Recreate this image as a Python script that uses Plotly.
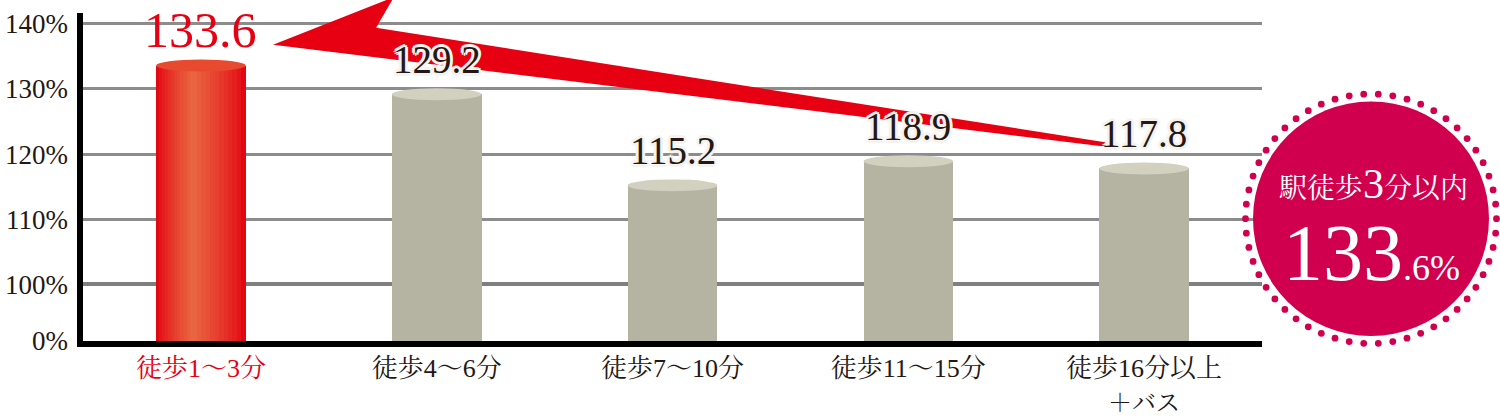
import math
import plotly.graph_objects as go

# ---------------- data ----------------
categories = ["徒歩1〜3分", "徒歩4〜6分", "徒歩7〜10分", "徒歩11〜15分", "徒歩16分以上<br><span style='font-size:24px'>＋バス</span>"]
values = [133.6, 129.2, 115.2, 118.9, 117.8]
highlight_index = 0
y_tick_values = [0, 100, 110, 120, 130, 140]
y_tick_labels = ["0%", "100%", "110%", "120%", "130%", "140%"]
badge_title_pre = "駅徒歩"
badge_title_num = "3"
badge_title_post = "分以内"
badge_value = 133.6

# ---------------- geometry / style ----------------
W, H = 1500, 416
PL, PR, PT, PB = 83, 1262, 0, 343          # plot area in pixels
PX_PER_UNIT = 6.55
Y100_PX = 286
ZERO_U = -(PB - Y100_PX) / PX_PER_UNIT     # axis units for 0%
TOP_U = (Y100_PX - PT) / PX_PER_UNIT
N = len(categories)
CAT_PX = (PR - PL) / N

SERIF = "Liberation Serif, Noto Serif CJK JP, serif"
RED = "#e60012"
GRAY_BAR = "#b5b4a3"
GRAY_TOP = "#d2d0be"
TEXT = "#231815"
BADGE = "#d0004f"
BAR_W = 0.38


def yu(v):
    """broken axis: 0..100 compressed, 100.. linear"""
    if v >= 100:
        return v - 100
    return ZERO_U * (1 - v / 100.0)


def px_data(px, py):
    return (px - PL) / CAT_PX - 0.5, (Y100_PX - py) / PX_PER_UNIT


def px_paper(px, py):
    return (px - PL) / (PR - PL), (PB - py) / (PB - PT)


fig = go.Figure()
xs = list(range(N))

# gray bars
gray_x = [i for i in xs if i != highlight_index]
fig.add_trace(go.Bar(
    x=gray_x, y=[yu(values[i]) - ZERO_U for i in gray_x], base=ZERO_U,
    width=BAR_W, marker=dict(color=GRAY_BAR, line=dict(width=0)),
    hoverinfo="skip", showlegend=False))


def mix(c1, c2, t):
    a = [int(c1[k:k + 2], 16) for k in (1, 3, 5)]
    b = [int(c2[k:k + 2], 16) for k in (1, 3, 5)]
    return "#" + "".join(f"{round(a[j] + (b[j] - a[j]) * t):02x}" for j in range(3))


# highlighted red cylinder with layered gradient (edge red -> orange centre)
steps = 12
hv = yu(values[highlight_index]) - ZERO_U
centre_shift = -0.035
for s in range(steps):
    frac = 1 - s / steps
    col = mix("#e30613", "#e9643f", (s / (steps - 1)) ** 0.8)
    w = BAR_W * frac
    fig.add_trace(go.Bar(
        x=[highlight_index], y=[hv], base=ZERO_U,
        width=w, offset=-w / 2 + centre_shift * (1 - frac),
        marker=dict(color=col, line=dict(width=0)),
        hoverinfo="skip", showlegend=False))

shapes = []
# cylinder tops
cap_h = 12 / PX_PER_UNIT
for i, v in enumerate(values):
    c = GRAY_TOP if i != highlight_index else "#e84a30"
    shapes.append(dict(type="circle", xref="x", yref="y",
                       x0=i - BAR_W / 2, x1=i + BAR_W / 2,
                       y0=yu(v) - cap_h / 2, y1=yu(v) + cap_h / 2,
                       fillcolor=c, line=dict(width=0), layer="above"))

# big red arrow (decoration) between grid and traces
arrow_px = [(273, 45), (394, -3), (376, 28), (1105, 143), (1106, 147.5)]
pts = [px_data(px, py) for px, py in arrow_px]
path = "M " + " L ".join(f"{x:.4f},{y:.4f}" for x, y in pts) + " Z"
shapes.append(dict(type="path", xref="x", yref="y", path=path,
                   fillcolor=RED, line=dict(width=0), layer="between"))

# axis lines
x0p, y0p = px_paper(80, 13)
x1p, y1p = px_paper(80, 349)
shapes.append(dict(type="line", xref="paper", yref="paper", x0=x0p, x1=x1p,
                   y0=y0p, y1=y1p, line=dict(color="black", width=6), layer="above"))
xa, ya = px_paper(77, 346)
xb, yb = px_paper(1262, 346)
shapes.append(dict(type="line", xref="paper", yref="paper", x0=xa, x1=xb,
                   y0=ya, y1=yb, line=dict(color="black", width=6), layer="above"))

# badge circle + dotted ring
BCX, BCY, BR = 1371, 220, 118
cx0, cy0 = px_paper(BCX - BR, BCY + BR)
cx1, cy1 = px_paper(BCX + BR, BCY - BR)
shapes.append(dict(type="circle", xref="paper", yref="paper", x0=cx0, y0=cy0,
                   x1=cx1, y1=cy1, fillcolor=BADGE, line=dict(width=0), layer="above"))
n_dots, ring_r, dot_r = 54, 125.5, 3.4
for k in range(n_dots):
    a = 2 * math.pi * k / n_dots
    dx, dy = BCX + ring_r * math.cos(a), BCY + ring_r * math.sin(a)
    p0 = px_paper(dx - dot_r, dy + dot_r)
    p1 = px_paper(dx + dot_r, dy - dot_r)
    shapes.append(dict(type="circle", xref="paper", yref="paper", x0=p0[0], y0=p0[1],
                       x1=p1[0], y1=p1[1], fillcolor=BADGE, line=dict(width=0),
                       layer="above"))

annotations = []
halo = "#f6f3ee"
shadow = (f"3px 0 0 {halo}, -3px 0 0 {halo}, 0 3px 0 {halo}, 0 -3px 0 {halo}, "
          f"2px 2px 0 {halo}, -2px -2px 0 {halo}, 2px -2px 0 {halo}, -2px 2px 0 {halo}")
for i, v in enumerate(values):
    if i == highlight_index:
        annotations.append(dict(x=i, y=yu(v), xref="x", yref="y", text=f"{v:.1f}",
                                showarrow=False, xanchor="center", yanchor="bottom", yshift=6,
                                font=dict(family=SERIF, size=50, color=RED)))
    else:
        annotations.append(dict(x=i, y=yu(v), xref="x", yref="y", text=f"{v:.1f}",
                                showarrow=False, xanchor="center", yanchor="bottom", yshift=11,
                                font=dict(family=SERIF, size=39, color=TEXT,
                                          shadow=shadow)))

# badge texts
tx, ty = px_paper(BCX + 2, 185)
annotations.append(dict(
    x=tx, y=ty, xref="paper", yref="paper", showarrow=False,
    xanchor="center", yanchor="middle",
    text=(f"{badge_title_pre}<span style='font-size:42px'>"
          f"{badge_title_num}</span>{badge_title_post}"),
    font=dict(family=SERIF, size=28, color="white")))
vx, vy = px_paper(BCX, 254)
vint, vdec = f"{badge_value:.1f}".split(".")
annotations.append(dict(
    x=vx, y=vy, xref="paper", yref="paper", showarrow=False,
    xanchor="center", yanchor="middle",
    text=f"{vint}<span style='font-size:36px'>.{vdec}%</span>",
    font=dict(family=SERIF, size=80, color="white")))

ticktext = [f"<span style='color:{RED}'>{c}</span>" if i == highlight_index else c
            for i, c in enumerate(categories)]

fig.update_layout(
    width=W, height=H,
    margin=dict(l=PL, r=W - PR, t=PT, b=H - PB, pad=0),
    paper_bgcolor="white", plot_bgcolor="white",
    barmode="overlay", bargap=0, showlegend=False,
    shapes=shapes, annotations=annotations,
    xaxis=dict(range=[-0.5, N - 0.5], tickvals=xs, ticktext=ticktext,
               showgrid=False, zeroline=False, showline=False, ticks="",
               ticklabelstandoff=9,
               tickfont=dict(family=SERIF, size=26, color=TEXT),
               fixedrange=True),
    yaxis=dict(range=[ZERO_U, TOP_U], tickvals=[yu(v) for v in y_tick_values],
               ticktext=y_tick_labels, showgrid=True, gridcolor="#8c8c8c",
               gridwidth=2.5, zeroline=True, zerolinecolor="#7f7f7f",
               zerolinewidth=4, showline=False, ticks="", ticklabelstandoff=14,
               tickfont=dict(family=SERIF, size=27, color=TEXT),
               fixedrange=True),
)

fig.write_html("out.html", config={"displayModeBar": False},
               post_script="document.body.style.margin='0px';")
